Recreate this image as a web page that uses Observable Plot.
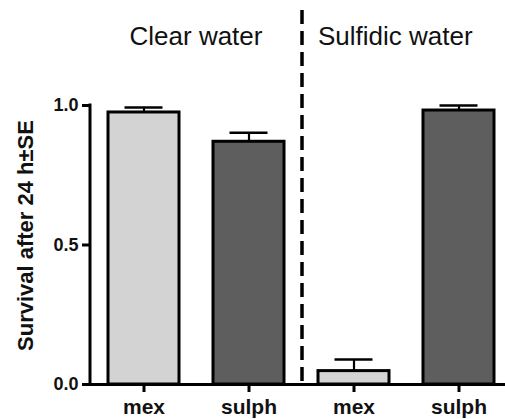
<!DOCTYPE html>
<html><head><meta charset="utf-8">
<script src="https://cdn.jsdelivr.net/npm/d3@7"></script>
<script src="https://cdn.jsdelivr.net/npm/@observablehq/plot@0.6"></script>
<style>
body{margin:0;background:#fff;}
svg{font-family:"Liberation Sans",Arial,Helvetica,sans-serif;}
</style>
</head><body><div id="chart"></div>
<script>
// ---- data ----
const keys = ["clear-mex", "clear-sulph", "sulf-mex", "sulf-sulph"];
const strains = ["mex", "sulph", "mex", "sulph"];
const groupOf = ["Clear water", "Clear water", "Sulfidic water", "Sulfidic water"];
const groups = ["Clear water", "Sulfidic water"];
const means = [0.975, 0.870, 0.048, 0.982];
const ses = [0.018, 0.032, 0.042, 0.018];
const yTicks = [0, 0.5, 1.0];
const yLabel = "Survival after 24 h\u00b1SE";

const data = keys.map((k, i) => ({key: k, strain: strains[i], group: groupOf[i], mean: means[i], se: ses[i]}));
const labelOf = Object.fromEntries(keys.map((k, i) => [k, strains[i]]));

function decorations(index, scales, values, dimensions) {
  const {x, y} = scales;
  const {marginLeft, marginTop} = dimensions;
  const bw = typeof x.bandwidth === "function" ? x.bandwidth() : x.bandwidth;
  const step = typeof x.step === "function" ? x.step() : x.step;
  const gap = (step - bw) / 2;
  const g = d3.create("svg:g");
  // y axis line
  g.append("line")
    .attr("x1", marginLeft).attr("x2", marginLeft)
    .attr("y1", y(1) - 1.5).attr("y2", y(0))
    .attr("stroke", "#000").attr("stroke-width", 3);
  // divider between the two water types
  const firstSecond = keys[groupOf.indexOf(groups[1])];
  const xd = x(firstSecond) - gap + 1;
  g.append("line")
    .attr("x1", xd).attr("x2", xd)
    .attr("y1", 10).attr("y2", y(0))
    .attr("stroke", "#000").attr("stroke-width", 3.5)
    .attr("stroke-dasharray", "14 7");
  // group headers
  groups.forEach((grp, gi) => {
    const ks = keys.filter((k, i) => groupOf[i] === grp);
    const cx = d3.mean(ks, k => x(k) + bw / 2);
    const t = g.append("text")
      .attr("y", marginTop - 60)
      .attr("font-size", 26)
      .attr("fill", "#111")
      .text(grp);
    if (gi === 0) t.attr("x", cx).attr("text-anchor", "middle");
    else t.attr("x", xd + 16).attr("text-anchor", "start");
  });
  // y label
  g.append("text")
    .attr("transform", `translate(33,${(y(0) + y(1)) / 2 - 9}) rotate(-90)`)
    .attr("text-anchor", "middle")
    .attr("font-size", 22)
    .attr("font-weight", "bold")
    .attr("fill", "#111")
    .text(yLabel);
  return g.node();
}

const chart = Plot.plot({
  width: 505,
  height: 419,
  marginLeft: 90,
  marginRight: 0,
  marginTop: 105,
  marginBottom: 35,
  style: {background: "#fff", fontFamily: "'Liberation Sans', Arial, sans-serif"},
  x: {domain: keys, paddingInner: 0.327, paddingOuter: 0.13, align: 0.6, axis: null},
  y: {domain: [0, 1], axis: null},
  color: {domain: ["mex", "sulph"], range: ["#d3d3d3", "#5e5e5e"]},
  marks: [
    Plot.barY(data, {x: "key", y: "mean", fill: "strain", stroke: "#000", strokeWidth: 3}),
    Plot.ruleX(data, {x: "key", y1: "mean", y2: d => d.mean + d.se, stroke: "#000", strokeWidth: 2.2}),
    Plot.tickY(data, {x: "key", y: d => d.mean + d.se, stroke: "#000", strokeWidth: 2.5, insetLeft: 16.5, insetRight: 16.5}),
    Plot.axisX({tickFormat: k => labelOf[k], tickSize: 8, tickPadding: 7, fontSize: 21, fontWeight: "bold", strokeWidth: 3, fill: "#111", label: null}),
    Plot.axisY({ticks: yTicks, tickFormat: d3.format(".1f"), tickSize: 8, tickPadding: 4, fontSize: 18, fontWeight: "bold", strokeWidth: 3, fill: "#111", label: null}),
    Plot.ruleY([0], {stroke: "#000", strokeWidth: 3}),
    decorations
  ]
});
document.getElementById("chart").append(chart);
</script>
</body></html>
